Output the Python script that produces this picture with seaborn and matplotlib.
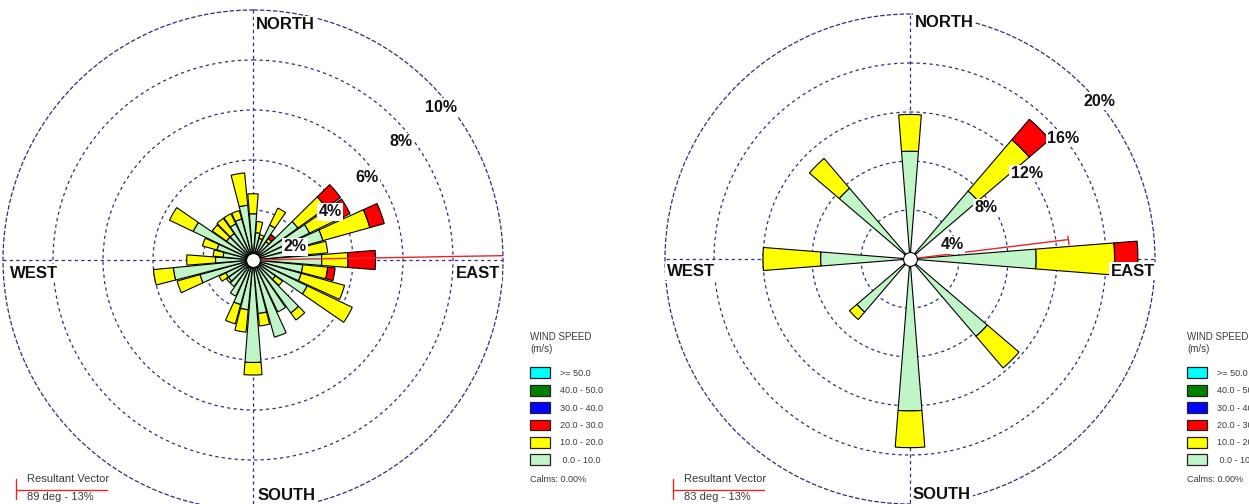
import numpy as np
import matplotlib
matplotlib.use("Agg")
import matplotlib.pyplot as plt
from matplotlib.patches import Patch
from matplotlib.lines import Line2D
import seaborn as sns

# ---------------------------------------------------------------------------
# Wind frequency data (percent of time), by direction and speed class
# ---------------------------------------------------------------------------
left_directions = np.arange(0, 360, 10)
left_speed_0_10 = [1.85, 1.1, 0.9, 1.55, 0.9, 2.2, 2.5, 2.9, 2.2, 2.75, 2.0, 2.0,
                   2.4, 1.1, 2.6, 2.3, 3.2, 2.15, 4.1, 2.0, 1.85, 1.6, 1.3, 1.2,
                   1.2, 2.2, 3.2, 1.5, 1.2, 1.5, 2.65, 1.3, 1.3, 1.6, 1.7, 2.2]
left_speed_10_20 = [0.8, 0.45, 0.15, 0.75, 0.15, 1.4, 1.1, 1.95, 0.8, 1.05, 1.0, 1.8,
                    2.0, 0.35, 0.35, 0.0, 0.0, 0.5, 0.5, 0.9, 0.8, 0.0, 0.0, 0.1,
                    0.3, 0.95, 0.8, 1.15, 0.4, 0.6, 1.05, 0.7, 0.75, 0.45, 0.35, 1.3]
left_speed_20_30 = [0.0, 0.0, 0.0, 0.0, 0.2, 0.7, 0.7, 0.6, 0.0, 1.1, 0.3, 0.0,
                    0.0, 0.0, 0.0, 0.0, 0.0, 0.0, 0.0, 0.0, 0.0, 0.0, 0.0, 0.0,
                    0.0, 0.0, 0.0, 0.0, 0.0, 0.0, 0.0, 0.0, 0.0, 0.0, 0.0, 0.0]
left_rings = [2, 4, 6, 8, 10]
left_resultant_deg = 89
left_resultant_pct = 13

right_directions = np.arange(0, 360, 45)
right_speed_0_10 = [8.8, 7.3, 10.3, 8.3, 12.4, 5.7, 7.3, 7.6]
right_speed_10_20 = [3.0, 5.5, 6.4, 3.4, 3.0, 0.8, 4.7, 3.2]
right_speed_20_30 = [0.0, 2.2, 1.9, 0.0, 0.0, 0.0, 0.0, 0.0]
right_rings = [4, 8, 12, 16, 20]
right_resultant_deg = 83
right_resultant_pct = 13

calms_pct = 0.00
speed_classes = [">= 50.0", "40.0 - 50.0", "30.0 - 40.0",
                 "20.0 - 30.0", "10.0 - 20.0", " 0.0 - 10.0"]

# ---------------------------------------------------------------------------
# Styling
# ---------------------------------------------------------------------------
sns.set_theme(style="white")
plt.rcParams["font.family"] = ["Liberation Sans", "DejaVu Sans"]

class_colors = sns.color_palette(["#00ffff", "#008000", "#0000ff",
                                  "#ff0000", "#ffff00", "#c0f5c8"])
GRID = "#2e2e80"
DASH = (0, (2.6, 2.6))
TXT = "#3a3a3a"
VEC = "#e02828"

W, H = 1249, 504
fig = plt.figure(figsize=(W / 100, H / 100), dpi=100)


def polar_axes(cx, cy, r):
    """Polar axes whose circle has centre (cx, cy) and radius r in pixels."""
    return fig.add_axes([(cx - r) / W, (H - cy - r) / H, 2 * r / W, 2 * r / H],
                        projection="polar")


def draw_rose(ax, directions, stacks, rings, label_spots, res_deg, res_pct):
    ax.set_theta_zero_location("N")
    ax.set_theta_direction(-1)
    ax.set_axisbelow(True)
    theta = np.deg2rad(directions)
    width = np.deg2rad(9)
    bottom = np.zeros(len(directions))
    # stacks go from the slowest class outward
    for vals, color in zip(stacks, class_colors[::-1]):
        vals = np.asarray(vals, dtype=float)
        m = vals > 0
        ax.bar(theta[m], vals[m], width=width, bottom=bottom[m], color=color,
               edgecolor="black", linewidth=0.8, zorder=3)
        bottom += vals

    ax.set_ylim(0, rings[-1])
    ax.set_yticks(rings[:-1])
    ax.set_yticklabels([])
    ax.set_xticks(np.deg2rad([0, 90, 180, 270]))
    ax.set_xticklabels([])
    ax.grid(True, color=GRID, linestyle=DASH, linewidth=0.9)
    ax.spines["polar"].set_linestyle(DASH)
    ax.spines["polar"].set_color(GRID)
    ax.spines["polar"].set_linewidth(0.9)

    # percentage labels on the rings
    for ring, (brg, rr) in zip(rings, label_spots):
        ax.text(np.deg2rad(brg), rr, f"{ring}%", ha="center", va="center",
                fontsize=11.5, fontweight="bold", color="#111111", zorder=6,
                bbox=dict(boxstyle="square,pad=0.08", fc="white", ec="none"))

    # resultant vector
    t = np.deg2rad(res_deg)
    ax.plot([t, t], [0, res_pct], color=VEC, linewidth=1.0, zorder=5)
    ax.plot([t], [res_pct], linestyle="none", marker=(2, 0, 90 - res_deg),
            markersize=7, markeredgecolor=VEC, markeredgewidth=1.0, zorder=5)

    # calm circle in the centre
    ax.plot([0], [0], "o", markersize=10, markerfacecolor="white",
            markeredgecolor="black", markeredgewidth=0.8, zorder=7)


def cardinal_labels(ax, spots):
    for txt, (x, y, ha) in spots.items():
        ax.text(x, y, txt, transform=ax.transAxes, ha=ha, va="center",
                fontsize=12, fontweight="bold", color="#111111", zorder=8,
                bbox=dict(boxstyle="square,pad=0.1", fc="white", ec="none"))


def speed_legend(x_px, calms_y_px):
    handles = [Patch(facecolor=c, edgecolor="#222222", linewidth=0.9)
               for c in class_colors]
    leg = fig.legend(handles, speed_classes, loc="upper left",
                     bbox_to_anchor=(x_px / W, (H - 332) / H),
                     frameon=False, title="WIND SPEED\n(m/s)",
                     fontsize=6.5, title_fontsize=7, alignment="left",
                     handlelength=2.2, handleheight=1.45, labelspacing=0.74,
                     handletextpad=1.1, borderaxespad=0, borderpad=0,
                     labelcolor=TXT)
    leg.get_title().set_color(TXT)
    leg._legend_box.sep = 10
    fig.text(x_px / W, (H - calms_y_px) / H, f"Calms: {calms_pct:.2f}%",
             fontsize=6.5, color=TXT, va="center", ha="left")


def resultant_box(x_px, res_deg, res_pct):
    y_line = (H - 490) / H
    fig.add_artist(Line2D([x_px / W, x_px / W], [(H - 479) / H, (H - 499) / H],
                          transform=fig.transFigure, color=VEC, linewidth=1.0))
    fig.add_artist(Line2D([x_px / W, (x_px + 91) / W], [y_line, y_line],
                          transform=fig.transFigure, color=VEC, linewidth=1.0))
    fig.text((x_px + 11) / W, (H - 479) / H, "Resultant Vector",
             fontsize=8, color=TXT, va="center", ha="left")
    fig.text((x_px + 11) / W, (H - 497.5) / H, f"{res_deg} deg - {res_pct}%",
             fontsize=8, color=TXT, va="center", ha="left")


# ---------------------------------------------------------------------------
# Left rose (10-degree sectors)
# ---------------------------------------------------------------------------
ax1 = polar_axes(253, 260, 250)
draw_rose(ax1, left_directions,
          [left_speed_0_10, left_speed_10_20, left_speed_20_30],
          left_rings,
          [(72.8, 1.76), (58, 3.63), (54, 5.64), (51.4, 7.57), (50.9, 9.7)],
          left_resultant_deg, left_resultant_pct)
cardinal_labels(ax1, {"NORTH": (0.506, 0.970, "left"),
                      "SOUTH": (0.510, 0.030, "left"),
                      "WEST": (0.014, 0.474, "left"),
                      "EAST": (0.994, 0.474, "right")})

# ---------------------------------------------------------------------------
# Right rose (45-degree sectors)
# ---------------------------------------------------------------------------
ax2 = polar_axes(910, 259, 245)
draw_rose(ax2, right_directions,
          [right_speed_0_10, right_speed_10_20, right_speed_20_30],
          right_rings,
          [(71.6, 3.65), (55.8, 7.47), (53.8, 11.8), (51.7, 15.9), (50.3, 20.1)],
          right_resultant_deg, right_resultant_pct)
cardinal_labels(ax2, {"NORTH": (0.510, 0.983, "left"),
                      "SOUTH": (0.506, 0.019, "left"),
                      "WEST": (0.004, 0.475, "left"),
                      "EAST": (1.000, 0.475, "right")})

speed_legend(530, 479)
speed_legend(1187, 479)
resultant_box(16, left_resultant_deg, left_resultant_pct)
resultant_box(673, right_resultant_deg, right_resultant_pct)

fig.savefig("out.png", dpi=100)
